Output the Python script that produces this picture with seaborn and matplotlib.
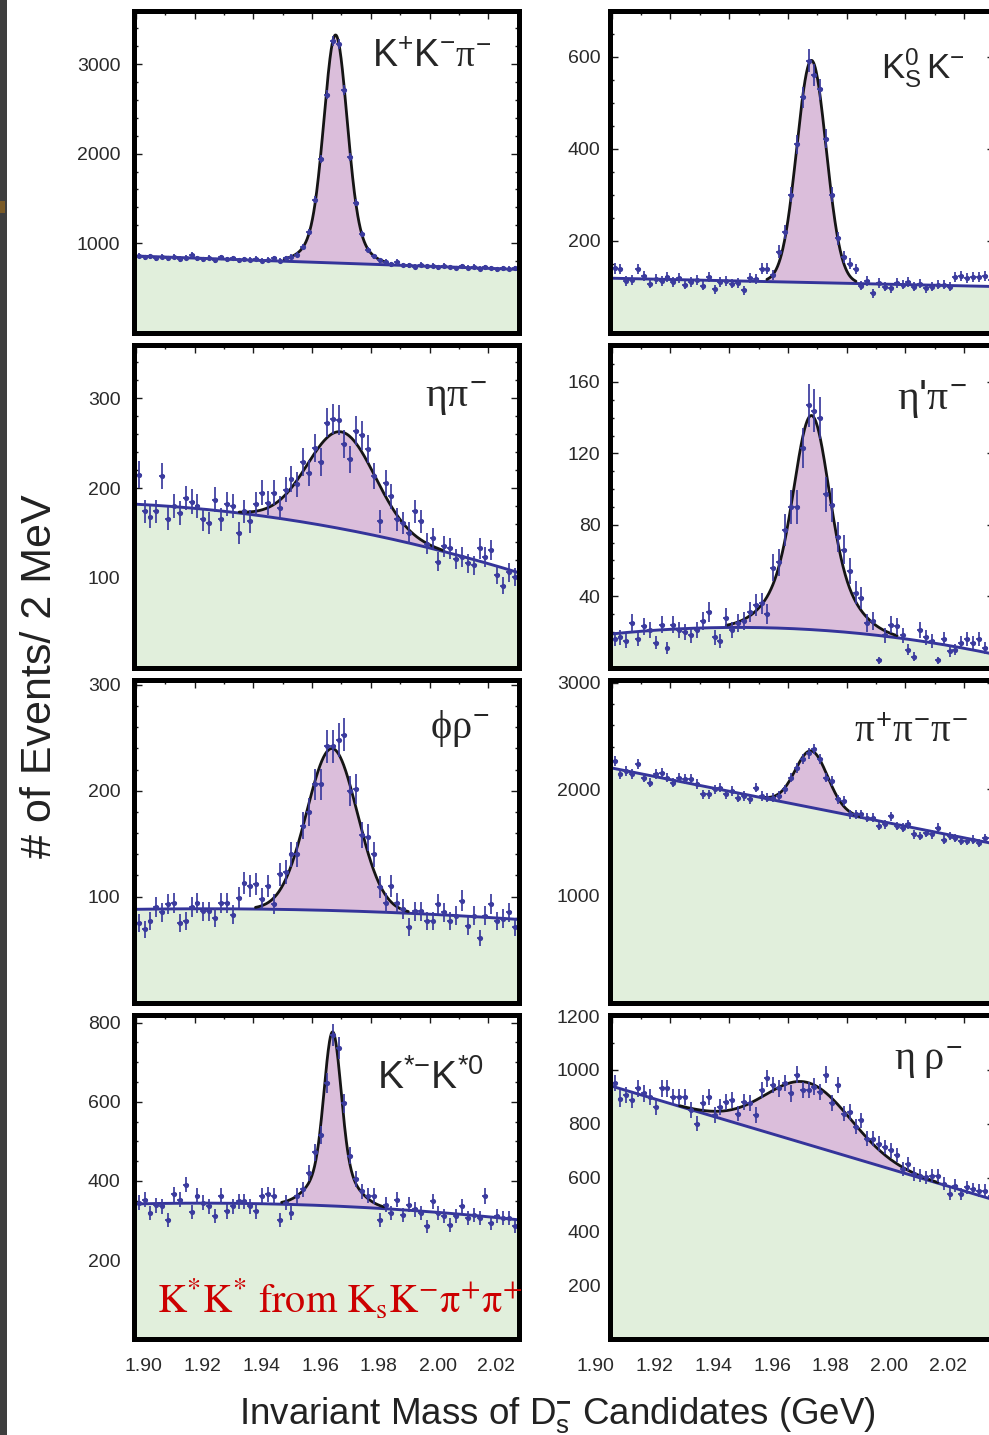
import numpy as np
import matplotlib
matplotlib.use("Agg")
import matplotlib.pyplot as plt
import matplotlib.transforms as mtransforms
from matplotlib.patches import Rectangle
from matplotlib.ticker import MultipleLocator, FixedLocator, FormatStrFormatter
import seaborn as sns

sns.set_theme(style="ticks")
plt.rcParams["font.family"] = ["Liberation Sans", "DejaVu Sans"]
plt.rcParams["mathtext.fontset"] = "custom"
plt.rcParams["mathtext.rm"] = "Liberation Sans"
plt.rcParams["mathtext.sf"] = "Liberation Sans"
plt.rcParams["mathtext.it"] = "Liberation Serif"
plt.rcParams["mathtext.bf"] = "Liberation Sans:bold"

# ---------------------------------------------------------------------------
# Mass window and 2 MeV binning (GeV)
mass_lo, mass_hi, bin_w = 1.90, 2.03, 0.002
bin_centers = np.arange(mass_lo + bin_w / 2, mass_hi, bin_w)
# masses at which the background level of each fit is quoted
bg_nodes = [1.900, 1.965, 2.030]

# --- D_s -> K+ K- pi- -------------------------------------------------------
counts_kkpi = [858, 842, 850, 828, 846, 832, 848, 822, 838, 866,
               830, 818, 836, 810, 842, 820, 832, 806, 818, 812,
               824, 800, 812, 830, 804, 832, 846, 870, 955, 1125,
               1483, 1936, 2660, 3257, 3230, 2710, 1960, 1450, 1100, 925,
               850, 810, 790, 762, 790, 755, 752, 735, 760, 738,
               748, 728, 745, 732, 722, 740, 725, 736, 712, 730,
               722, 705, 720, 712, 722]
bg_kkpi = [855, 780, 706]
peak_kkpi = [1.968, 2150, 0.0038, 400, 0.0075]   # mean, A1, sigma1, A2, sigma2

# --- D_s -> K0S K- ----------------------------------------------------------
counts_kskm = [140, 138, 112, 114, 138, 122, 106, 116, 112, 120,
               110, 118, 104, 110, 114, 102, 120, 94, 110, 112,
               106, 108, 92, 118, 116, 139, 139, 125, 176, 219,
               300, 409, 511, 591, 559, 529, 421, 300, 205, 165,
               150, 138, 102, 112, 85, 108, 100, 96, 108, 104,
               110, 100, 106, 96, 100, 104, 104, 100, 120, 122,
               118, 120, 120, 122, 115]
bg_kskm = [118, 109, 100]
peak_kskm = [1.968, 483, 0.0050, 0, 0.010]

# --- D_s -> eta pi- ---------------------------------------------------------
counts_etapi = [215, 174, 168, 174, 213, 166, 180, 172, 189, 185,
                180, 165, 161, 187, 165, 182, 180, 150, 174, 163,
                182, 195, 183, 195, 178, 198, 210, 204, 229, 217,
                245, 229, 273, 277, 276, 249, 232, 264, 259, 244,
                213, 163, 206, 191, 165, 161, 150, 174, 163, 138,
                144, 118, 135, 133, 121, 123, 116, 114, 133, 123,
                131, 103, 91, 106, 101]
bg_etapi = [182, 157.6, 106]
peak_etapi = [1.970, 108, 0.0115, 0, 0.010]

# --- D_s -> eta' pi- --------------------------------------------------------
counts_etaprpi = [16, 17, 15, 25, 16, 23, 21, 14, 24, 11,
                  24, 21, 20, 18, 21, 26, 31, 17, 15, 28,
                  21, 25, 26, 31, 35, 36, 30, 56, 59, 77,
                  90, 90, 123, 147, 144, 140, 97, 91, 73, 66,
                  54, 42, 39, 25, 26, 4, 18, 24, 23, 18,
                  10, 6, 21, 17, 15, 4, 16, 9, 10, 14,
                  16, 14, 16, 11, 8]
bg_etaprpi = [18.8, 21.5, 7.5]
peak_etaprpi = [1.968, 80, 0.0055, 40, 0.011]

# --- D_s -> phi rho- --------------------------------------------------------
counts_phirho = [75, 69, 77, 90, 85, 93, 94, 75, 77, 90,
                 94, 86, 86, 80, 94, 94, 83, 99, 113, 110,
                 112, 98, 110, 93, 121, 123, 140, 140, 167, 180,
                 206, 206, 242, 242, 248, 253, 200, 202, 158, 156,
                 140, 109, 94, 110, 94, 88, 71, 86, 86, 77,
                 77, 93, 85, 77, 82, 96, 72, 82, 61, 82,
                 93, 77, 79, 85, 71]
bg_phirho = [88, 87, 78.5]
peak_phirho = [1.9668, 153, 0.0086, 0, 0.010]

# --- D_s -> pi+ pi- pi- -----------------------------------------------------
counts_3pi = [2267, 2141, 2173, 2141, 2235, 2110, 2063, 2141, 2157, 2110,
              2063, 2110, 2094, 2094, 2047, 1953, 1953, 2000, 2016, 1953,
              1984, 1922, 1937, 1906, 2016, 1937, 1922, 1922, 1937, 2000,
              2110, 2204, 2283, 2336, 2377, 2283, 2110, 2078, 1906, 1890,
              1765, 1765, 1765, 1733, 1733, 1655, 1670, 1749, 1655, 1639,
              1670, 1576, 1560, 1592, 1576, 1639, 1529, 1560, 1545, 1513,
              1513, 1529, 1498, 1545, 1545]
bg_3pi = [2200, 1845, 1490]
peak_3pi = [1.968, 531, 0.0055, 0, 0.010]

# --- D_s -> K*- K*0 ---------------------------------------------------------
counts_kstkst = [345, 353, 319, 338, 336, 302, 366, 353, 391, 321,
                 362, 345, 336, 311, 362, 323, 336, 349, 349, 336,
                 323, 362, 366, 362, 302, 345, 319, 362, 379, 421,
                 472, 515, 647, 770, 736, 596, 464, 404, 374, 363,
                 362, 302, 340, 319, 353, 315, 340, 328, 319, 285,
                 349, 319, 311, 289, 311, 336, 306, 315, 306, 362,
                 294, 311, 306, 306, 285]
bg_kstkst = [342, 337.4, 302]
peak_kstkst = [1.967, 340, 0.0028, 100, 0.0070]

# --- D_s -> eta rho- --------------------------------------------------------
counts_etarho = [951, 894, 907, 888, 932, 913, 901, 863, 932, 932,
                 901, 901, 901, 851, 801, 876, 901, 832, 863, 882,
                 888, 838, 882, 876, 832, 926, 969, 944, 932, 951,
                 913, 982, 926, 926, 938, 919, 982, 876, 944, 838,
                 845, 789, 813, 745, 745, 726, 714, 701, 683, 633,
                 651, 614, 608, 601, 608, 608, 577, 539, 570, 539,
                 564, 558, 552, 552, 533]
bg_etarho = [940, 729, 518]
peak_etarho = [1.967, 230, 0.0145, 0, 0.010]

# y-axis ranges and tick values
ylims = [(0, 3600), (0, 700), (0, 360), (0, 181),
         (0, 305), (0, 3030), (0, 820), (0, 1205)]
yticks_major = [[1000, 2000, 3000], [200, 400, 600], [100, 200, 300],
                [40, 80, 120, 160], [100, 200, 300], [1000, 2000, 3000],
                [200, 400, 600, 800], [200, 400, 600, 800, 1000, 1200]]
yticks_minor = [200, 50, 20, 10, 20, 200, 50, 100]

channel_labels = [r"$\mathrm{K^{+}K^{-}}\pi^{-}$",
                  r"$\mathrm{K^{0}_{S}\,K^{-}}$",
                  r"$\eta\pi^{-}$",
                  r"$\eta$'$\pi^{-}$",
                  r"$\phi\rho^{-}$",
                  r"$\pi^{+}\pi^{-}\pi^{-}$",
                  r"$\mathrm{K^{*{-}}K^{*0}}$",
                  r"$\eta\;\rho^{-}$"]

panels = [
    (counts_kkpi, bg_kkpi, peak_kkpi),
    (counts_kskm, bg_kskm, peak_kskm),
    (counts_etapi, bg_etapi, peak_etapi),
    (counts_etaprpi, bg_etaprpi, peak_etaprpi),
    (counts_phirho, bg_phirho, peak_phirho),
    (counts_3pi, bg_3pi, peak_3pi),
    (counts_kstkst, bg_kstkst, peak_kstkst),
    (counts_etarho, bg_etarho, peak_etarho),
]

# ---------------------------------------------------------------------------
GREEN = "#e1efdc"
PURPLE = "#dbbedb"
BG_LINE = "#34349a"
POINT = "#3b3b9e"
FIT_LINE = "#151515"
TEXT = "#262626"

W, H = 989, 1435
fig = plt.figure(figsize=(W / 100, H / 100), dpi=100)
fig.patch.set_facecolor("white")

col_x = [134.3, 610.2]
ax_w = 384.9
row_top = [10.5, 344.5, 679.5, 1014.8]
row_bot = [332.5, 667.5, 1002.5, 1339.2]

# placement of the channel names (axes fraction, right edge / baseline)
label_pos = [(0.929, 0.8245), (0.922, 0.790), (0.916, 0.807), (0.927, 0.799),
             (0.924, 0.818), (0.930, 0.807), (0.909, 0.773), (0.9166, 0.830)]
label_size = [27, 25, 30, 30, 29, 28, 28, 29]


def background(x, levels):
    coef = np.polyfit(bg_nodes, levels, 2)
    return np.polyval(coef, x)


def signal(x, p):
    mu, a1, s1, a2, s2 = p
    return (a1 * np.exp(-0.5 * ((x - mu) / s1) ** 2)
            + a2 * np.exp(-0.5 * ((x - mu) / s2) ** 2))


x_lo, x_hi = 1.8995, 2.0305
xg = np.linspace(x_lo, x_hi, 900)

for k, (counts, bg_levels, peak) in enumerate(panels):
    row, col = divmod(k, 2)
    top, bot = row_top[row], row_bot[row]
    ax = fig.add_axes([col_x[col] / W, 1 - bot / H, ax_w / W, (bot - top) / H])

    bg = background(xg, bg_levels)
    sig = signal(xg, peak)
    tot = bg + sig

    ax.fill_between(xg, 0, bg, color=GREEN, lw=0, zorder=1)
    ax.fill_between(xg, bg, tot, color=PURPLE, lw=0, zorder=1)
    sns.lineplot(x=xg, y=bg, ax=ax, color=BG_LINE, lw=2.1, zorder=3,
                 estimator=None, sort=False)
    on_peak = sig > 0.01 * sig.max()
    sns.lineplot(x=xg[on_peak], y=tot[on_peak], ax=ax, color=FIT_LINE, lw=2.0,
                 zorder=4, estimator=None, sort=False)

    y = np.asarray(counts, dtype=float)
    ax.errorbar(bin_centers, y, yerr=np.sqrt(y), xerr=bin_w / 2, fmt="none",
                ecolor=POINT, elinewidth=1.25, capsize=0, zorder=5)
    sns.scatterplot(x=bin_centers, y=y, ax=ax, color=POINT, s=14, linewidth=0,
                    zorder=6)

    ax.set_xlim(x_lo, x_hi)
    ax.set_ylim(*ylims[k])
    ax.set_xlabel("")
    ax.set_ylabel("")

    for sp in ax.spines.values():
        sp.set_linewidth(3.6)
        sp.set_color("black")
        sp.set_zorder(8)

    ax.xaxis.set_major_locator(MultipleLocator(0.02))
    ax.xaxis.set_minor_locator(MultipleLocator(0.01))
    ax.xaxis.set_major_formatter(FormatStrFormatter("%.2f"))
    ax.yaxis.set_major_locator(FixedLocator(yticks_major[k]))
    ax.yaxis.set_minor_locator(MultipleLocator(yticks_minor[k]))

    ax.tick_params(which="both", direction="in", top=True, right=True,
                   bottom=True, left=True, color="#1a1a1a", width=1.0,
                   labelcolor="#2a2a2a", labelsize=14)
    ax.tick_params(which="major", length=5.8)
    ax.tick_params(which="minor", length=2.9)
    ax.tick_params(axis="y", pad=10.0 if col == 0 else 7.0)
    ax.tick_params(axis="x", pad=13.5, labelbottom=(row == 3))

    if row == 3:
        dx = 8 if col == 0 else -16
        shift = mtransforms.ScaledTranslation(dx / 100, 0, fig.dpi_scale_trans)
        for lab in ax.get_xticklabels():
            lab.set_transform(lab.get_transform() + shift)

    fx, fy = label_pos[k]
    ax.text(fx, fy, channel_labels[k], transform=ax.transAxes, ha="right",
            va="baseline", fontsize=label_size[k], color=TEXT, zorder=9)

# common axis titles
fig.text(40 / W, 1 - 676 / H, "# of Events/ 2 MeV", rotation=90,
         ha="center", va="center", fontsize=31, color="#222222")
fig.text(557 / W, 1 - 1424 / H,
         r"Invariant Mass of D$_{\mathrm{s}}^{\mathbf{-}}$ Candidates (GeV)",
         ha="center", va="baseline", fontsize=26.5, color="#222222")

# annotation on the K*K* panel
fig.text(157 / W, 1 - 1313 / H,
         r"$\mathrm{K^{*}K^{*}\ from\ K_{s}K^{-}\pi^{+}\pi^{+}}$",
         math_fontfamily="stix", color="#cc0000", fontsize=29,
         ha="left", va="baseline", zorder=20)

# dark page margin on the left
fig.add_artist(Rectangle((0, 0), 7 / W, 1, transform=fig.transFigure,
                         color="#3e3e3e", lw=0, zorder=0))
fig.add_artist(Rectangle((0, 1 - 213 / H), 5 / W, 12 / H,
                         transform=fig.transFigure, color="#7a5a26", lw=0,
                         zorder=1))

fig.savefig("out.png", dpi=100)
